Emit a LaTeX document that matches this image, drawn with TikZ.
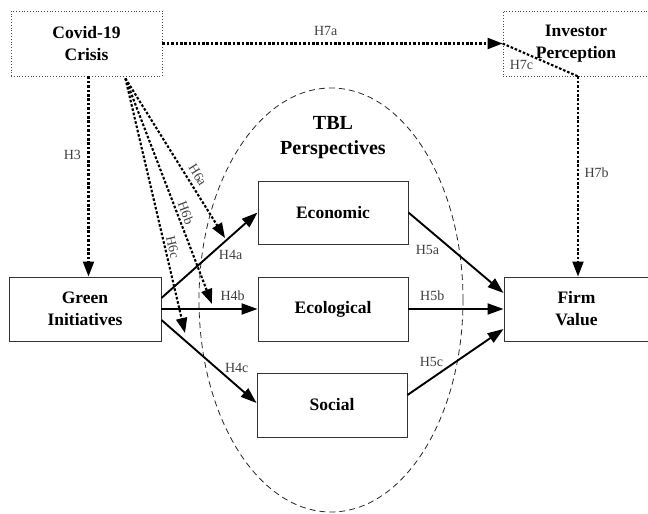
\documentclass[tikz,border=0pt]{standalone}
\usepackage{fontspec}
\setmainfont{Liberation Serif}
\usetikzlibrary{arrows.meta,calc,shapes.geometric}
\begin{document}
\begin{tikzpicture}[x=1pt,y=-1pt,
 box/.style={draw=black!80, line width=0.9pt, minimum width=150pt, minimum height=64pt, inner sep=0pt, align=center, font=\fontsize{17.5}{22}\selectfont\bfseries},
 dbox/.style={box, draw=black!70, line width=0.8pt, dotted},
 sarr/.style={line width=1.9pt, -{Triangle[length=16pt,width=11pt]}},
 darr/.style={line width=2.1pt, dash pattern=on 2.6pt off 1.8pt, -{Triangle[length=15pt,width=11pt]}},
 dln/.style={line width=2.1pt, dash pattern=on 2.6pt off 1.8pt},
 lbl/.style={font=\fontsize{14}{16}\selectfont, text=black!75, inner sep=1.5pt},
 slbl/.style={font=\fontsize{13.5}{15}\selectfont, text=black!75, inner sep=0.5pt, sloped},
]
\useasboundingbox (0,0) rectangle (648,514);

% TBL ellipse
\node[ellipse, draw=black!85, line width=0.8pt, dash pattern=on 6pt off 4pt, minimum width=264pt, minimum height=424pt, inner sep=0pt] (tbl) at (331,300) {};
\node[align=center, font=\fontsize{20}{25}\selectfont\bfseries, inner sep=0pt] (tbltxt) at (333,138) {TBL\\Perspectives};

% boxes
\node[dbox, minimum width=151pt, minimum height=65pt] (covid) at (86.5,43.5) {Covid-19\\Crisis};
\node[dbox, minimum width=146pt, minimum height=65pt] (inv) at (576,43.5) {Investor\\Perception};
\node[box, minimum width=152pt] (green) at (85,309) {Green\\Initiatives};
\node[box, minimum height=63pt] (econ) at (333,212.5) {Economic};
\node[box] (eco) at (333,309) {Ecological};
\node[box] (soc) at (332,405) {Social};
\node[box, minimum width=145pt] (firm) at (576.5,309) {Firm\\Value};

% helper coordinates
\coordinate (h3s) at ($(covid.south)+(2,0)$);
\coordinate (h6s) at ($(covid.south east)+(-37,2)$);
\coordinate (t6a) at (225,238);
\coordinate (t6b) at (212,304);
\coordinate (t6c) at (185,333);
\coordinate (p7) at ($(inv.south)+(2,0)$);

% H4
\draw[sarr] ($(green.east)+(0,-11)$) -- (econ.west) node[lbl, pos=0.72, below=11pt] {H4a};
\draw[sarr] (green.east) -- (eco.west) node[lbl, pos=0.74, above=6pt] {H4b};
\draw[sarr] ($(green.east)+(0,11)$) -- ($(soc.west)+(0,-2)$) node[lbl, pos=0.76, above=8pt, xshift=3pt] {H4c};

% H5
\draw[sarr] (econ.east) -- ($(firm.west)+(0,-16)$) node[lbl, pos=0.2, below=14pt] {H5a};
\draw[sarr] (eco.east) -- (firm.west) node[lbl, pos=0.25, above=6pt] {H5b};
\draw[sarr] ($(soc.east)+(0,-10)$) -- ($(firm.west)+(0,20)$) node[lbl, pos=0.25, above=9pt] {H5c};

% H3
\draw[darr] (h3s) -- (h3s |- green.north) node[lbl, pos=0.39, left=5pt] {H3};

% H6
\draw[darr] (h6s) -- (t6a) node[slbl, pos=0.64, above=4pt] {H6a};
\draw[darr] (h6s) -- (t6b) node[slbl, pos=0.61, above=2pt] {H6b};
\draw[darr] (h6s) -- (t6c) node[slbl, pos=0.67, above=1.5pt] {H6c};

% H7
\draw[darr] (covid.east) -- (inv.west) node[lbl, pos=0.48, above=5pt] {H7a};
\draw[dln] (inv.west) -- (p7) node[lbl, pos=0.25, below=6pt] {H7c};
\draw[darr] (p7) -- (p7 |- firm.north) node[lbl, pos=0.48, right=4pt] {H7b};
\end{tikzpicture}
\end{document}
